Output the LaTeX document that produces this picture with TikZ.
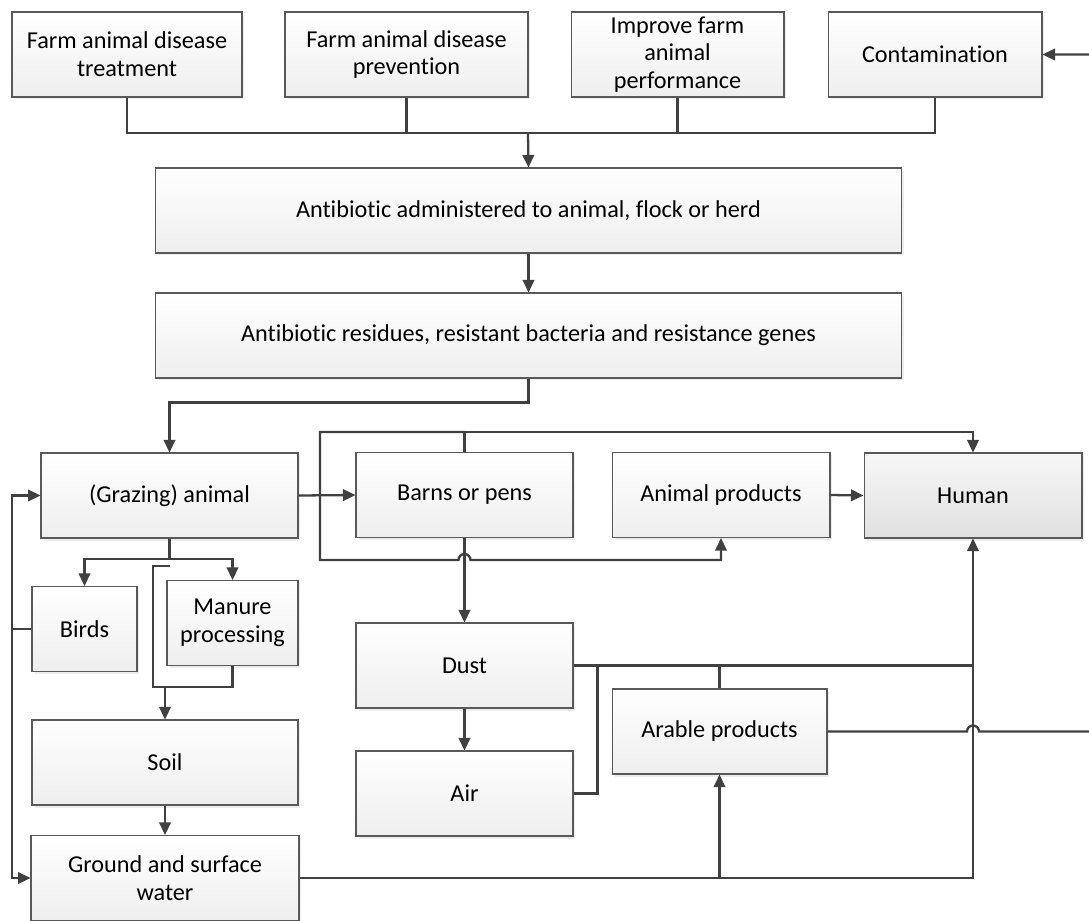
\documentclass[tikz,border=0pt]{standalone}
\usepackage{fontspec}
\setmainfont{Carlito}[Ligatures=NoCommon]
\usetikzlibrary{arrows.meta,shadows}
\definecolor{LineClr}{rgb}{0.25,0.25,0.25}
\definecolor{EdgeClr}{rgb}{0.35,0.35,0.35}
\definecolor{ShadowClr}{rgb}{0.86,0.86,0.86}

\begin{document}
\begin{tikzpicture}[x=0.02cm,y=-0.02cm,
  box/.style={draw=EdgeClr,line width=0.6pt,top color=white,bottom color=gray!13,
    drop shadow={shadow xshift=0.05cm,shadow yshift=-0.05cm,fill=ShadowClr},
    minimum height=1.7cm,inner sep=2pt,align=center,
    font=\fontsize{13.8}{15.8}\selectfont},
  hbox/.style={box,top color=gray!6,bottom color=gray!24},
  link/.style={draw=LineClr,line width=1.3pt},
  arr/.style={link,-{Triangle[length=0.25cm,width=0.23cm]}}]
\useasboundingbox (0,0) rectangle (1089,920);

\node[box,minimum width=4.6cm]  (treat)   at (127,54.5)   {Farm animal disease\\treatment};
\node[box,minimum width=4.86cm] (prevent) at (406.5,54.5) {Farm animal disease\\prevention};
\node[box,minimum width=4.26cm] (perform) at (677.5,54.5) {Improve farm\\animal\\performance};
\node[box,minimum width=4.28cm] (contam)  at (935,54.5)   {Contamination};

\node[box,minimum width=14.94cm] (admin) at (528.5,210.5) {Antibiotic administered to animal, flock or herd};
\node[box,minimum width=14.94cm] (resid) at (528.5,335.5) {Antibiotic residues, resistant bacteria and resistance genes};

\node[box,minimum width=5.14cm]  (graze) at (169.5,495.5) {(Grazing) animal};
\node[box,minimum width=4.34cm]  (barns) at (464.5,495)   {Barns or pens};
\node[box,minimum width=4.36cm]  (aprod) at (721,495)     {Animal products};
\node[hbox,minimum width=4.36cm] (human) at (973,495.5)   {Human};

\node[box,minimum width=2.1cm]  (birds)  at (84.5,629)   {Birds};
\node[box,minimum width=2.62cm] (manure) at (232.5,623)  {Manure\\processing};
\node[box,minimum width=5.32cm] (soil)   at (165,762.5)  {Soil};
\node[box,minimum width=5.36cm] (ground) at (165,878)    {Ground and surface\\water};

\node[box,minimum width=4.34cm] (dust)   at (464.5,665.5) {Dust};
\node[box,minimum width=4.34cm] (air)    at (464.5,793.5) {Air};
\node[box,minimum width=4.3cm]  (arable) at (719.5,731.5) {Arable products};

\coordinate (join) at (528,133);
\draw[link] (treat.south) |- (join) -| (contam.south);
\draw[link] (prevent.south) -- (prevent.south |- join);
\draw[link] (perform.south) -- (perform.south |- join);
\draw[arr] (join) -- (admin.north);
\draw[arr] (admin) -- (resid);
\draw[arr] (resid.south) -- ++(0,24) -| (graze.north);

\draw[arr] (graze.east) -- (barns.west);
\draw[arr] (aprod.east) -- (human.west);
\coordinate (btop) at (464.5,432);
\draw[arr] (barns.north) -- (btop) -| (human.north);
\draw[arr] (btop) -| (320,560) -- (458.5,560)
  arc[start angle=180,end angle=0,radius=0.12cm] -| (aprod.south);

\coordinate (gsplit) at (169.5,559);
\draw[arr] (graze.south) -- (gsplit) -| (birds.north);
\draw[arr] (gsplit) -| (manure.north);
\coordinate (mjoin) at (165,687);
\draw[link] (169.5,566) -| (153,687) -- (mjoin);
\draw[link] (manure.south) |- (mjoin);
\draw[arr] (mjoin) -- (soil.north);
\draw[arr] (soil) -- (ground);

\coordinate (bleft) at (12,629);
\draw[link] (birds.west) -- (bleft);
\draw[arr] (bleft) |- (graze.west);
\draw[arr] (bleft) |- (ground.west);

\draw[arr] (barns.south) -- (dust.north);
\draw[arr] (dust) -- (air);
\draw[link] (dust.east) -- (dust.east -| human.south);
\draw[link] (air.east) -- ++(24,0) |- (dust.east);
\draw[link] (arable.north) -- (arable.north |- dust.east);
\draw[arr] (ground.east) -| (human.south);
\draw[arr] (ground.east -| arable.south) -- (arable.south);
\draw[arr] (arable.east) -- (967,731.5)
  arc[start angle=180,end angle=0,radius=0.12cm] -- (1096,731.5) |- (contam.east);

\end{tikzpicture}
\end{document}
